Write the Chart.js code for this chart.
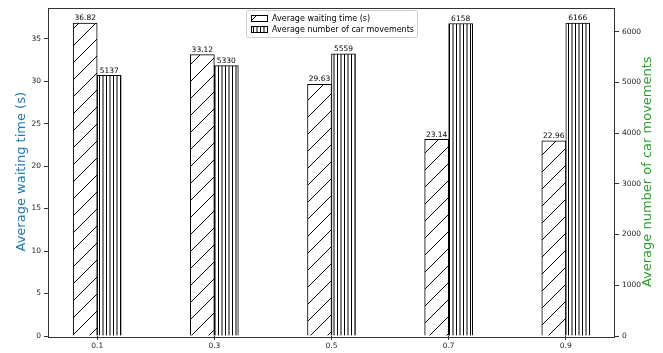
<!DOCTYPE html>
<html>
<head>
<meta charset="utf-8">
<script src="https://cdn.jsdelivr.net/npm/chart.js@4.4.1/dist/chart.umd.min.js"></script>
<style>
  html, body { margin: 0; padding: 0; background: #fff; }
  #wrap { width: 663px; height: 353px; }
</style>
</head>
<body>
<div id="wrap"><canvas id="chart" width="663" height="353"></canvas></div>
<script>
// ---------- data ----------
const categories = [0.1, 0.3, 0.5, 0.7, 0.9];
const waitingTime = [36.82, 33.12, 29.63, 23.14, 22.96];
const carMovements = [5137, 5330, 5559, 6158, 6166];
const waitingTicks = [0, 5, 10, 15, 20, 25, 30, 35];
const carTicks = [0, 1000, 2000, 3000, 4000, 5000, 6000];

const fontFamily = "'DejaVu Sans', sans-serif";
const blue = "#1f77b4";
const green = "#2ca02c";
const ink = "#222";

// ---------- hatch patterns ----------
function diagonalHatch() {
    let n = 17;
    let c = document.createElement("canvas");
    c.width = n; c.height = n;
    let g = c.getContext("2d");
    g.fillStyle = "#fff";
    g.fillRect(0, 0, n, n);
    g.strokeStyle = "#000";
    g.lineWidth = 1;
    g.beginPath();
    g.moveTo(-1, n + 1); g.lineTo(n + 1, -1);
    g.moveTo(-1, 1); g.lineTo(1, -1);
    g.moveTo(n - 1, n + 1); g.lineTo(n + 1, n - 1);
    g.stroke();
    return g.createPattern(c, "repeat");
}

function verticalHatch() {
    let c = document.createElement("canvas");
    c.width = 7; c.height = 7;
    let g = c.getContext("2d");
    g.fillStyle = "#fff";
    g.fillRect(0, 0, 7, 7);
    g.strokeStyle = "#000";
    g.lineWidth = 1;
    g.beginPath();
    g.moveTo(1.5, 0); g.lineTo(1.5, 7);
    g.moveTo(5, 0); g.lineTo(5, 7);
    g.stroke();
    return g.createPattern(c, "repeat");
}

const hatchWait = diagonalHatch();
const hatchCars = verticalHatch();

// ---------- frame, titles, value labels, legend ----------
const decorations = {
    id: "decorations",
    afterDatasetsDraw(chart) {
        const ctx = chart.ctx;
        const area = chart.chartArea;

        // value labels above bars
        ctx.save();
        ctx.font = "7.5px " + fontFamily;
        ctx.fillStyle = "#000";
        ctx.textAlign = "center";
        ctx.textBaseline = "bottom";
        chart.data.datasets.forEach((ds, i) => {
            chart.getDatasetMeta(i).data.forEach((bar, j) => {
                let v = ds.data[j].y;
                let txt = i === 0 ? v.toFixed(2) : String(v);
                ctx.fillText(txt, bar.x, bar.y - 1);
            });
        });
        ctx.restore();

        // frame
        ctx.save();
        ctx.strokeStyle = "#333";
        ctx.lineWidth = 1;
        ctx.strokeRect(Math.round(area.left) + 0.5, Math.round(area.top) + 0.5,
                       Math.round(area.right - area.left) - 1, Math.round(area.bottom - area.top));
        ctx.restore();

        // axis titles, both read bottom to top
        const midY = (area.top + area.bottom) / 2;
        ctx.save();
        ctx.font = "13px " + fontFamily;
        ctx.textAlign = "center";
        ctx.textBaseline = "middle";
        ctx.translate(22, midY);
        ctx.rotate(-Math.PI / 2);
        ctx.fillStyle = blue;
        ctx.fillText("Average waiting time (s)", 0, 0);
        ctx.restore();

        ctx.save();
        ctx.font = "13px " + fontFamily;
        ctx.textAlign = "center";
        ctx.textBaseline = "middle";
        ctx.translate(648, midY);
        ctx.rotate(-Math.PI / 2);
        ctx.fillStyle = green;
        ctx.fillText("Average number of car movements", 0, 0);
        ctx.restore();

        // legend box
        ctx.save();
        let lx = 246, ly = 10, lw = 171, lh = 27;
        ctx.fillStyle = "rgba(255,255,255,0.85)";
        ctx.strokeStyle = "#ccc";
        ctx.lineWidth = 1;
        ctx.beginPath();
        ctx.roundRect(lx + 0.5, ly + 0.5, lw, lh, 2);
        ctx.fill();
        ctx.stroke();
        ctx.font = "8px " + fontFamily;
        ctx.textAlign = "left";
        ctx.textBaseline = "middle";
        let rows = [
            { fill: hatchWait, text: chart.data.datasets[0].label, y: 18 },
            { fill: hatchCars, text: chart.data.datasets[1].label, y: 29 }
        ];
        rows.forEach(r => {
            ctx.fillStyle = r.fill;
            ctx.fillRect(251, r.y - 3, 16, 6);
            ctx.strokeStyle = "#000";
            ctx.strokeRect(251.5, r.y - 2.5, 16, 6);
            ctx.fillStyle = "#000";
            ctx.fillText(r.text, 272, r.y + 0.5);
        });
        ctx.restore();
    }
};

new Chart(document.getElementById("chart"), {
    type: "bar",
    data: {
        datasets: [
            {
                label: "Average waiting time (s)",
                data: categories.map((c, i) => ({ x: c, y: waitingTime[i] })),
                backgroundColor: hatchWait,
                borderColor: "#000",
                borderWidth: 1,
                yAxisID: "y"
            },
            {
                label: "Average number of car movements",
                data: categories.map((c, i) => ({ x: c, y: carMovements[i] })),
                backgroundColor: hatchCars,
                borderColor: "#000",
                borderWidth: 1,
                yAxisID: "y1"
            }
        ]
    },
    options: {
        responsive: false,
        animation: false,
        events: [],
        barThickness: 24,
        layout: { padding: { top: 7, left: 0, right: 0, bottom: 0 } },
        plugins: {
            legend: { display: false },
            tooltip: { enabled: false }
        },
        scales: {
            x: {
                type: "linear",
                offset: false,
                min: 0.016,
                max: 0.984,
                afterBuildTicks: s => { s.ticks = categories.map(v => ({ value: v })); },
                afterFit: s => { s.height = 17; },
                border: { display: false },
                grid: { drawOnChartArea: false, tickLength: 4, color: "#333", offset: false },
                ticks: {
                    padding: 2,
                    color: ink,
                    font: { family: fontFamily, size: 7.5 },
                    callback: v => String(v)
                }
            },
            y: {
                position: "left",
                min: 0,
                max: 38.66,
                afterBuildTicks: s => { s.ticks = waitingTicks.map(v => ({ value: v })); },
                afterFit: s => { s.width = 48; },
                border: { display: false },
                grid: { drawOnChartArea: false, tickLength: 4, color: "#333" },
                ticks: {
                    padding: 3,
                    color: ink,
                    font: { family: fontFamily, size: 7.5 },
                    callback: v => String(v)
                }
            },
            y1: {
                position: "right",
                min: 0,
                max: 6474,
                afterBuildTicks: s => { s.ticks = carTicks.map(v => ({ value: v })); },
                afterFit: s => { s.width = 48; },
                border: { display: false },
                grid: { drawOnChartArea: false, tickLength: 4, color: "#333" },
                ticks: {
                    padding: 3,
                    color: ink,
                    font: { family: fontFamily, size: 7.5 },
                    callback: v => String(v)
                }
            }
        }
    },
    plugins: [decorations]
});
</script>
</body>
</html>
